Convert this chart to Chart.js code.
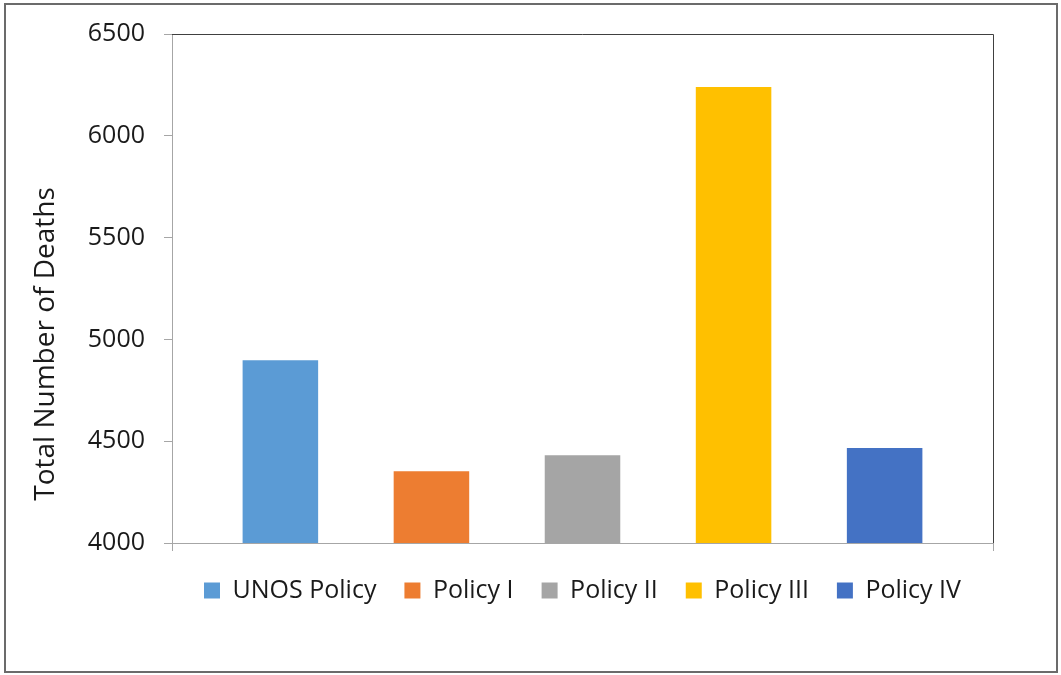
<!DOCTYPE html>
<html lang="en">
<head>
  <meta charset="UTF-8">
  <title>Total Number of Deaths by Policy</title>
  <script src="https://cdn.jsdelivr.net/npm/chart.js"></script>
  <style>
    body {
      margin: 0;
      background: #fff;
    }
    .wrap {
      position: relative;
      width: 1061px;
      height: 675px;
    }
    .frame {
      position: absolute;
      left: 4px;
      top: 3px;
      width: 1054px;
      height: 670px;
      box-sizing: border-box;
      border: 2px solid #6b6b6b;
      pointer-events: none;
    }
    canvas {
      position: absolute;
      left: 0;
      top: 0;
    }
  </style>
</head>
<body>
  <div class="wrap">
    <canvas id="deathChart" width="1061" height="675"></canvas>
    <div class="frame"></div>
  </div>
  <script>
    const policies = ['UNOS Policy', 'Policy I', 'Policy II', 'Policy III', 'Policy IV'];
    const deaths = [4897, 4352, 4431, 6240, 4466];
    const colors = ['#5b9bd5', '#ed7d31', '#a5a5a5', '#ffc000', '#4472c4'];
    const yTicks = [4000, 4500, 5000, 5500, 6000, 6500];
    const yTitle = 'Total Number of Deaths';

    const FONT = "'Open Sans', 'DejaVu Sans', sans-serif";

    // dark frame round the plot area (top and right stay visible over the axes)
    const plotFrame = {
      id: 'plotFrame',
      beforeDatasetsDraw(chart) {
        const { ctx, chartArea: a } = chart;
        ctx.save();
        ctx.strokeStyle = '#404040';
        ctx.lineWidth = 1;
        ctx.beginPath();
        ctx.moveTo(a.left, a.top + 0.5);
        ctx.lineTo(a.right + 0.5, a.top + 0.5);
        ctx.lineTo(a.right + 0.5, a.bottom);
        ctx.stroke();
        ctx.restore();
      }
    };

    // vertical axis title, set a bit below the middle of the plot
    const sideTitle = {
      id: 'sideTitle',
      afterDraw(chart) {
        const { ctx } = chart;
        ctx.save();
        ctx.translate(46, 344);
        ctx.rotate(-Math.PI / 2);
        ctx.font = '28px ' + FONT;
        ctx.fillStyle = '#1a1a1a';
        ctx.textAlign = 'center';
        ctx.textBaseline = 'middle';
        ctx.fillText(yTitle, 0, 0);
        ctx.restore();
      }
    };

    new Chart(document.getElementById('deathChart'), {
      type: 'bar',
      data: {
        labels: [''],
        datasets: policies.map((name, i) => ({
          label: name,
          data: [deaths[i]],
          backgroundColor: colors[i],
          borderWidth: 0
        }))
      },
      options: {
        responsive: false,
        animation: false,
        layout: {
          padding: { left: 72, right: 68, top: 33, bottom: 62 }
        },
        datasets: {
          bar: { categoryPercentage: 0.92, barPercentage: 0.5 }
        },
        scales: {
          x: {
            offset: true,
            grid: { display: true, drawOnChartArea: false, offset: true, tickLength: 8, color: '#a6a6a6' },
            border: { color: '#a6a6a6', width: 1 },
            ticks: { display: false },
            afterFit(scale) { scale.height = 7; }
          },
          y: {
            min: 4000,
            max: 6500,
            afterBuildTicks(scale) { scale.ticks = yTicks.map(v => ({ value: v })); },
            grid: { display: true, drawOnChartArea: false, tickLength: 8, color: '#a6a6a6' },
            border: { color: '#a6a6a6', width: 1 },
            ticks: {
              padding: 19,
              color: '#1a1a1a',
              font: { family: FONT, size: 25 },
              callback: v => String(v)
            },
            afterFit(scale) { scale.width = 100; }
          }
        },
        plugins: {
          legend: {
            position: 'bottom',
            fullSize: false,
            labels: {
              boxWidth: 16,
              boxHeight: 16,
              padding: 28,
              color: '#1a1a1a',
              font: { family: FONT, size: 25 }
            }
          },
          tooltip: { enabled: false }
        }
      },
      plugins: [plotFrame, sideTitle]
    });
  </script>
</body>
</html>
